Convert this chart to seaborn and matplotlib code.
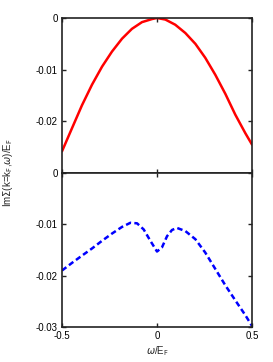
import pandas as pd
import matplotlib
matplotlib.use("Agg")
import matplotlib.pyplot as plt
import seaborn as sns

# values
omega_top = [-0.5, -0.447, -0.395, -0.342, -0.289, -0.237, -0.184, -0.132, -0.079, -0.026,
             0.0, 0.044, 0.096, 0.149, 0.202, 0.254, 0.307, 0.36, 0.412, 0.465, 0.5]
im_top = [-0.0258, -0.0213, -0.0169, -0.0129, -0.0094, -0.0065, -0.0040, -0.0021, -0.0008, -0.0002,
          0.0, -0.0003, -0.0013, -0.0029, -0.0050, -0.0077, -0.0110, -0.0147, -0.0187, -0.0223, -0.0245]

omega_bot = [-0.5, -0.447, -0.395, -0.342, -0.289, -0.237, -0.184, -0.140, -0.105, -0.070,
             -0.035, 0.0, 0.026, 0.053, 0.079, 0.105, 0.149, 0.202, 0.254, 0.307,
             0.36, 0.412, 0.465, 0.5]
im_bot = [-0.0190, -0.0175, -0.0161, -0.0147, -0.0132, -0.0118, -0.0105, -0.0097, -0.0098, -0.0110,
          -0.0132, -0.0153, -0.0145, -0.0123, -0.0111, -0.0107, -0.0113, -0.0129, -0.0155, -0.0187,
          -0.0219, -0.0248, -0.0277, -0.0298]

xticks = [-0.5, 0, 0.5]
xtick_labels = ["-0.5", "0", "0.5"]
yticks_top = [0, -0.01, -0.02]
yticks_bot = [0, -0.01, -0.02, -0.03]


def main():
    sns.set_style("ticks")
    plt.rcParams['font.family'] = ['Liberation Sans', 'DejaVu Sans']
    plt.rcParams['mathtext.fontset'] = 'dejavusans'

    top = pd.DataFrame({"w": omega_top, "im": im_top})
    bot = pd.DataFrame({"w": omega_bot, "im": im_bot})

    fig = plt.figure(figsize=(2.73, 3.62), dpi=100)
    ax1 = fig.add_axes([62 / 273, 1 - 173 / 362, 190 / 273, 155 / 362])
    ax2 = fig.add_axes([62 / 273, 1 - 327 / 362, 190 / 273, 154 / 362])

    sns.lineplot(data=top, x="w", y="im", ax=ax1, color="#ff0000", lw=1.8)
    sns.lineplot(data=bot, x="w", y="im", ax=ax2, color="#0000ff", lw=1.8,
                 dashes=False, linestyle=(0, (2.2, 1.3)))

    for ax, yt in [(ax1, yticks_top), (ax2, yticks_bot)]:
        ax.set_xlim(-0.5, 0.5)
        ax.set_ylim(-0.03, 0)
        ax.set_xticks(xticks)
        ax.set_yticks(yt)
        ax.set_yticklabels(["0" if v == 0 else f"{v:g}" for v in yt])
        ax.tick_params(direction="in", top=True, right=True, length=3,
                       width=1, labelsize=7, pad=3, colors="#222222",
                       labelcolor="black")
        for s in ax.spines.values():
            s.set_linewidth(1.2)
            s.set_color("#222222")
        ax.set_xlabel("")
        ax.set_ylabel("")

    ax1.set_xticklabels([])
    ax2.set_xticklabels(xtick_labels)
    ax2.set_xlabel(r"$\omega$/E$_\mathrm{F}$", fontsize=7, labelpad=2)
    fig.text(0.03, 1 - 173 / 362, r"Im$\Sigma$(k=k$_\mathrm{F}$,$\omega$)/E$_\mathrm{F}$",
             rotation=90, fontsize=7, va="center", ha="center")

    fig.savefig("out.png", dpi=100)


if __name__ == "__main__":
    main()
